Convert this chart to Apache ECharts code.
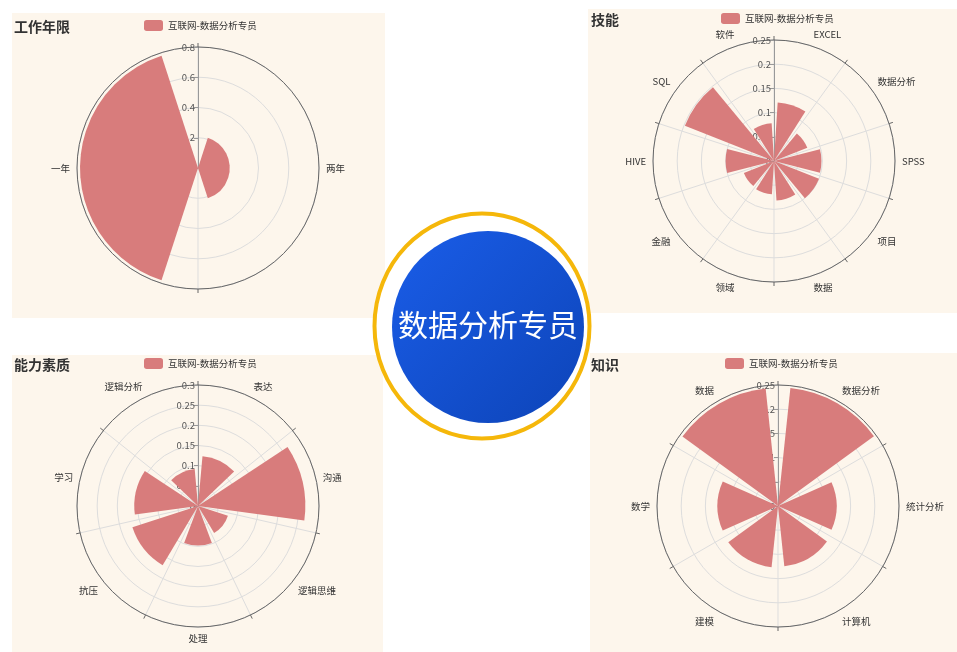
<!DOCTYPE html>
<html>
<head>
<meta charset="utf-8">
<script src="https://cdn.jsdelivr.net/npm/echarts@6/dist/echarts.min.js"></script>
<style>
html,body{margin:0;padding:0;background:#fff;}
#main{width:957px;height:652px;}
</style>
</head>
<body>
<div id="main"></div>
<script>
// ---- data ----
const seriesName = '互联网-数据分析专员';
const centerTitle = '数据分析专员';

const yearTitle = '工作年限';
const yearCats = ['两年', '一年'];
const yearVals = [0.21, 0.78];
const yearTicks = [0, 0.8, 0.2]; // min, max, step

const skillTitle = '技能';
const skillCats = ['EXCEL', '数据分析', 'SPSS', '项目', '数据', '领域', '金融', 'HIVE', 'SQL', '软件'];
const skillVals = [0.121, 0.074, 0.098, 0.1, 0.082, 0.069, 0.067, 0.1, 0.198, 0.078];
const skillTicks = [0, 0.25, 0.05];

const abilityTitle = '能力素质';
const abilityCats = ['表达', '沟通', '逻辑思维', '处理', '抗压', '学习', '逻辑分析'];
const abilityVals = [0.124, 0.266, 0.078, 0.098, 0.171, 0.158, 0.092];
const abilityTicks = [0, 0.3, 0.05];

const knowTitle = '知识';
const knowCats = ['数据分析', '统计分析', '计算机', '建模', '数学', '数据'];
const knowVals = [0.245, 0.121, 0.125, 0.127, 0.125, 0.244];
const knowTicks = [0, 0.25, 0.05];

// ---- layout ----
const FONT = '"Noto Sans CJK SC", "Noto Sans", sans-serif';
const panels = [
  {rect: [12, 13, 373, 305], center: [198, 168], r: 121, title: yearTitle, titlePos: [14, 20], legendPos: [144, 20], cats: yearCats, vals: yearVals, ticks: yearTicks},
  {rect: [588, 9, 369, 304], center: [774, 161], r: 121, title: skillTitle, titlePos: [591, 13], legendPos: [721, 13], cats: skillCats, vals: skillVals, ticks: skillTicks},
  {rect: [12, 355, 371, 297], center: [198, 506], r: 121, title: abilityTitle, titlePos: [14, 358], legendPos: [144, 358], cats: abilityCats, vals: abilityVals, ticks: abilityTicks},
  {rect: [590, 353, 367, 299], center: [778, 506], r: 121, title: knowTitle, titlePos: [591, 358], legendPos: [725, 358], cats: knowCats, vals: knowVals, ticks: knowTicks}
];

const option = {
  backgroundColor: '#ffffff',
  animation: false,
  textStyle: {fontFamily: FONT},
  title: panels.map(p => ({
    text: p.title, left: p.titlePos[0], top: p.titlePos[1], padding: 0,
    textStyle: {fontSize: 14, fontWeight: 'bold', color: '#333', fontFamily: FONT}
  })),
  legend: panels.map(p => ({
    data: [seriesName], left: p.legendPos[0], top: p.legendPos[1], padding: 0,
    itemWidth: 19, itemHeight: 11, itemGap: 8,
    textStyle: {fontSize: 9.5, color: '#333', fontFamily: FONT}
  })),
  polar: panels.map(p => ({center: p.center, radius: p.r})),
  angleAxis: panels.map((p, i) => ({
    polarIndex: i, type: 'category', data: p.cats, startAngle: 90, clockwise: true,
    axisLine: {lineStyle: {color: '#666', width: 1}},
    axisTick: {length: 4, lineStyle: {color: '#666'}},
    axisLabel: {fontSize: 9.5, color: '#333', margin: 7, fontFamily: FONT},
    splitLine: {show: true, lineStyle: {color: '#ddd', width: 1}}
  })),
  radiusAxis: panels.map((p, i) => ({
    polarIndex: i, type: 'value', min: p.ticks[0], max: p.ticks[1], interval: p.ticks[2],
    axisLine: {lineStyle: {color: '#999'}},
    axisTick: {length: 4, lineStyle: {color: '#999'}},
    axisLabel: {fontSize: 9.5, color: '#555', margin: 3, fontFamily: FONT},
    splitLine: {show: true, lineStyle: {color: '#ddd', width: 1}}
  })),
  series: panels.map((p, i) => ({
    name: seriesName, type: 'bar', coordinateSystem: 'polar', polarIndex: i,
    data: p.vals, barCategoryGap: '20%',
    itemStyle: {color: '#d87c7c'}
  })),
  color: ['#d87c7c'],
  graphic: {
    elements: panels.map(p => ({
      type: 'rect', z: -10, silent: true,
      shape: {x: p.rect[0], y: p.rect[1], width: p.rect[2], height: p.rect[3]},
      style: {fill: '#fdf6ec'}
    })).concat([
      {type: 'ellipse', z: 100, silent: true,
       shape: {cx: 482, cy: 326, rx: 107.5, ry: 112.5},
       style: {fill: '#ffffff', stroke: '#f5b70a', lineWidth: 4}},
      {type: 'circle', z: 101, silent: true,
       shape: {cx: 488, cy: 327, r: 96},
       style: {fill: new echarts.graphic.LinearGradient(0, 0, 1, 1, [
         {offset: 0, color: '#1a5de8'}, {offset: 1, color: '#0d44b8'}])}},
      {type: 'text', z: 102, silent: true,
       style: {text: centerTitle, x: 488, y: 325, align: 'center', verticalAlign: 'middle',
               fill: '#ffffff', fontSize: 30, fontFamily: FONT}}
    ])
  }
};

const chart = echarts.init(document.getElementById('main'));
chart.setOption(option);
</script>
</body>
</html>
